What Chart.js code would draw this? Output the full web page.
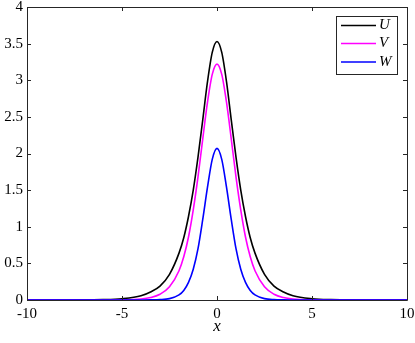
<!DOCTYPE html>
<html>
<head>
<meta charset="utf-8">
<script src="https://cdn.jsdelivr.net/npm/chart.js@4/dist/chart.umd.min.js"></script>
<style>
html,body{margin:0;padding:0;background:#fff;}
#wrap{position:relative;width:415px;height:343px;}
</style>
</head>
<body>
<div id="wrap"><canvas id="c" width="415" height="343"></canvas></div>
<script>
// x positions
const xValues = [-10,-8,-7,-6,-5,-4,-3.5,-3,-2.5,-2,-1.75,-1.5,-1.25,-1,-0.75,-0.5,-0.25,0,0.25,0.5,0.75,1,1.25,1.5,1.75,2,2.5,3,3.5,4,5,6,7,8,10];
const uValues = [0,0.0005,0.002,0.005,0.018,0.058,0.11,0.19,0.35,0.64,0.85,1.14,1.50,1.95,2.46,2.98,3.38,3.53,3.38,2.98,2.46,1.95,1.50,1.14,0.85,0.64,0.35,0.19,0.11,0.058,0.018,0.005,0.002,0.0005,0];
const vValues = [0,0,0,0.0005,0.0026,0.014,0.033,0.078,0.18,0.40,0.59,0.86,1.23,1.68,2.20,2.70,3.08,3.22,3.08,2.70,2.20,1.68,1.23,0.86,0.59,0.40,0.18,0.078,0.033,0.014,0.0026,0.0005,0,0,0];
const wValues = [0,0,0,0,0,0.0003,0.0013,0.005,0.019,0.069,0.13,0.24,0.42,0.70,1.10,1.54,1.92,2.07,1.92,1.54,1.10,0.70,0.42,0.24,0.13,0.069,0.019,0.005,0.0013,0.0003,0,0,0,0,0];
const seriesLabels = ['U','V','W'];
const seriesColors = ['#000000','#ff00ff','#0000ff'];
const xTicks = [-10,-5,0,5,10];
const yTicks = [0,0.5,1,1.5,2,2.5,3,3.5,4];

function pts(ys){ return xValues.map((x,i)=>({x:x,y:ys[i]})); }

const axisColor = '#262626';
const serif = '"Liberation Serif","Times New Roman",serif';

const boxPlugin = {
  id:'boxPlugin',
  afterDraw(chart){
    const ctx = chart.ctx, a = chart.chartArea;
    const xs = chart.scales.x, ys = chart.scales.y;
    ctx.save();
    ctx.strokeStyle = axisColor;
    ctx.lineWidth = 1;
    ctx.beginPath();
    ctx.rect(Math.round(a.left)+0.5, Math.round(a.top)+0.5, Math.round(a.right-a.left), Math.round(a.bottom-a.top));
    ctx.stroke();
    const L = 4;
    ctx.beginPath();
    xTicks.forEach(v=>{
      const p = Math.round(xs.getPixelForValue(v))+0.5;
      ctx.moveTo(p, a.bottom); ctx.lineTo(p, a.bottom-L);
      ctx.moveTo(p, a.top); ctx.lineTo(p, a.top+L);
    });
    yTicks.forEach(v=>{
      const p = Math.round(ys.getPixelForValue(v))+0.5;
      ctx.moveTo(a.left, p); ctx.lineTo(a.left+L, p);
      ctx.moveTo(a.right, p); ctx.lineTo(a.right-L, p);
    });
    ctx.stroke();
    // legend
    const bx=336.5, by=16.5, bw=61, bh=58;
    ctx.fillStyle='#fff';
    ctx.fillRect(bx,by,bw,bh);
    ctx.strokeStyle=axisColor;
    ctx.strokeRect(bx,by,bw,bh);
    const rows=[25.5,43.5,62];
    ctx.font='italic 15px '+serif;
    ctx.textBaseline='middle';
    ctx.textAlign='left';
    chart.data.datasets.forEach((d,i)=>{
      ctx.strokeStyle=d.borderColor;
      ctx.lineWidth=1.5;
      ctx.beginPath();
      ctx.moveTo(341,rows[i]); ctx.lineTo(376,rows[i]);
      ctx.stroke();
      ctx.fillStyle='#000';
      ctx.fillText(d.label,379,rows[i]);
    });
    // x axis title
    ctx.font='italic 17px '+serif;
    ctx.textAlign='center';
    ctx.fillStyle='#000';
    ctx.fillText('x', xs.getPixelForValue(0), 327);
    ctx.restore();
  }
};

new Chart(document.getElementById('c'),{
  type:'line',
  data:{
    datasets: seriesLabels.map((lab,i)=>({
      label:lab,
      data:pts([uValues,vValues,wValues][i]),
      borderColor:seriesColors[i],
      backgroundColor:seriesColors[i],
      borderWidth:1.6,
      pointRadius:0,
      fill:false,
      cubicInterpolationMode:'monotone',
      order:3-i
    }))
  },
  options:{
    responsive:false,
    animation:false,
    devicePixelRatio:1,
    layout:{padding:{left:0,right:8,top:7,bottom:0}},
    plugins:{legend:{display:false},tooltip:{enabled:false}},
    scales:{
      x:{
        type:'linear',min:-10,max:10,
        afterBuildTicks(s){ s.ticks = xTicks.map(v=>({value:v})); },
        afterFit(s){ s.height = 43; s.paddingLeft = 0; s.paddingRight = 0; },
        grid:{display:false,drawTicks:false},
        border:{display:false},
        ticks:{color:'#000',font:{family:serif,size:15},padding:5,maxRotation:0,callback:v=>String(v)}
      },
      y:{
        type:'linear',min:0,max:4,
        afterBuildTicks(s){ s.ticks = yTicks.map(v=>({value:v})); },
        afterFit(s){ s.width = 27; s.paddingTop = 0; s.paddingBottom = 0; },
        grid:{display:false,drawTicks:false},
        border:{display:false},
        ticks:{color:'#000',font:{family:serif,size:15},padding:4,callback:v=>String(v)}
      }
    }
  },
  plugins:[boxPlugin]
});
</script>
</body>
</html>
